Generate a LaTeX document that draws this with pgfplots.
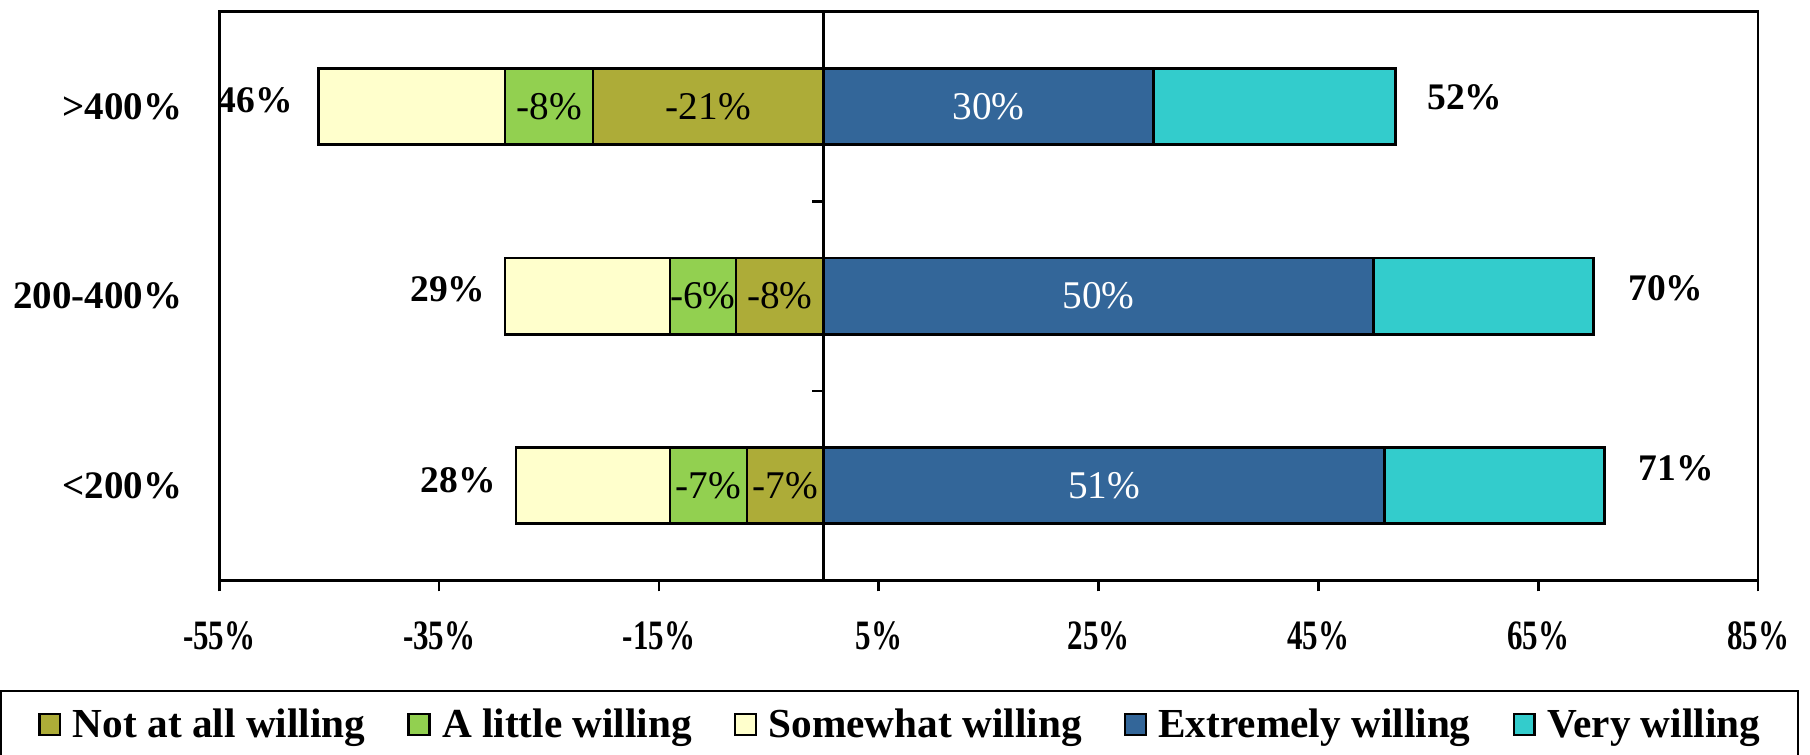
\documentclass[border=0pt]{standalone}
\usepackage{pgfplots}
\pgfplotsset{compat=1.18}
\usepackage{fontspec}
\setmainfont{Liberation Serif}
\newfontfamily\tickfont[FakeStretch=0.74]{Liberation Serif}

\definecolor{cNot}{HTML}{ADAC38}
\definecolor{cLittle}{HTML}{92D050}
\definecolor{cSome}{HTML}{FFFFCC}
\definecolor{cExt}{HTML}{336699}
\definecolor{cVery}{HTML}{33CCCC}

% willingness shares by group (negative side: not willing)
\pgfplotstableread{
cat notall little somewhat extreme very
0   -7     -7     -14      51      20
1   -8     -6     -15      50      20
2   -21    -8     -17      30      22
}\willing

\pgfplotsset{
  willbase/.style={
    scale only axis, width=533.2pt, height=197.2pt,
    xmin=-55, xmax=85, ymin=-0.5, ymax=2.5,
    xbar stacked, bar width=26.4pt,
    at={(0,0)}, anchor=south west,
  },
  segstyle/.style={fill=#1, draw=black, line width=0.95pt},
  sqlegend/.style={legend image code/.code={%
    \filldraw[fill=#1, draw=black, line width=0.8pt] (0pt,-3.4pt) rectangle (7.2pt,3.8pt);}},
}
\tikzset{
  seg/.style={inner sep=0pt, anchor=center, font=\fontsize{13.6}{16}\selectfont},
  tot/.style={inner sep=0pt, font=\bfseries\fontsize{13}{16}\selectfont},
}

\begin{document}
\begin{tikzpicture}
% frame, axes, negative side and legend
\begin{axis}[willbase,
  axis line style={line width=0.9pt},
  xtick={-55,-35,-15,5,25,45,65,85},
  xticklabels={-55\%,-35\%,-15\%,5\%,25\%,45\%,65\%,85\%},
  xtick pos=bottom, tick align=outside,
  major tick length=3.7pt, tick style={line width=0.9pt, black},
  xticklabel style={font=\tickfont\bfseries\fontsize{14.5}{16}\selectfont, yshift=-7pt},
  ytick={0,1,2}, yticklabels={<200\%\hspace{3.6pt},200-400\%,>400\%},
  y tick style={draw=none},
  yticklabel style={font=\bfseries\fontsize{13.5}{16}\selectfont, xshift=-5.6pt},
  legend columns=5,
  legend style={at={(-0.14254,-0.1927)}, anchor=north west, draw=black, line width=0.6pt,
    font=\bfseries\fontsize{14.3}{17}\selectfont, inner xsep=13pt, inner ysep=6pt,
    nodes={inner sep=0pt},
    /tikz/every odd column/.append style={column sep=4pt},
    /tikz/every even column/.append style={column sep=14.6pt}},
]
\addplot[segstyle=cNot, forget plot] table[x=notall, y=cat]{\willing};
\addplot[segstyle=cLittle, forget plot] table[x=little, y=cat]{\willing};
\addplot[segstyle=cSome, forget plot] table[x=somewhat, y=cat]{\willing};
\addlegendimage{sqlegend=cNot}
\addlegendimage{sqlegend=cLittle}
\addlegendimage{sqlegend=cSome}
\addlegendimage{sqlegend=cExt}
\addlegendimage{sqlegend=cVery}
\legend{Not at all willing, A little willing, Somewhat willing, Extremely willing, Very willing}
\end{axis}

% positive side
\begin{axis}[willbase, hide axis]
\addplot[segstyle=cExt] table[x=extreme, y=cat]{\willing};
\addplot[segstyle=cVery] table[x=very, y=cat]{\willing};
\end{axis}

% zero line and value labels on top of the bars
\begin{axis}[willbase, hide axis]
\draw[line width=0.95pt] (axis cs:0,-0.5) -- (axis cs:0,2.5);
\draw[line width=0.9pt] (axis cs:0,0.5) -- ++(-4pt,0pt);
\draw[line width=0.9pt] (axis cs:0,1.5) -- ++(-4pt,0pt);
% segment values, centred in their segments
\node[seg] at (axis cs:-10.5,2) {-21\%};
\node[seg] at (axis cs:-25,2) {-8\%};
\node[seg] at (axis cs:-4,1) {-8\%};
\node[seg] at (axis cs:-11,1) {-6\%};
\node[seg] at (axis cs:-3.5,0) {-7\%};
\node[seg] at (axis cs:-10.5,0) {-7\%};
\node[seg, text=white] at (axis cs:15,2) {30\%};
\node[seg, text=white] at (axis cs:25,1) {50\%};
\node[seg, text=white] at (axis cs:25.5,0) {51\%};
% net totals on each side
\node[tot, anchor=east, xshift=-8.7pt, yshift=2pt] at (axis cs:-46,2) {46\%};
\node[tot, anchor=east, xshift=-6.6pt, yshift=2.4pt] at (axis cs:-29,1) {29\%};
\node[tot, anchor=east, xshift=-6.8pt, yshift=2pt] at (axis cs:-28,0) {28\%};
\node[tot, anchor=west, xshift=10.9pt, yshift=3pt] at (axis cs:52,2) {52\%};
\node[tot, anchor=west, xshift=12pt, yshift=2.8pt] at (axis cs:70,1) {70\%};
\node[tot, anchor=west, xshift=11.7pt, yshift=6pt] at (axis cs:71,0) {71\%};
\end{axis}

\pgfresetboundingbox
\path[use as bounding box] (-76pt,-60.4pt) rectangle (551.2pt,201.2pt);
\end{tikzpicture}
\end{document}
